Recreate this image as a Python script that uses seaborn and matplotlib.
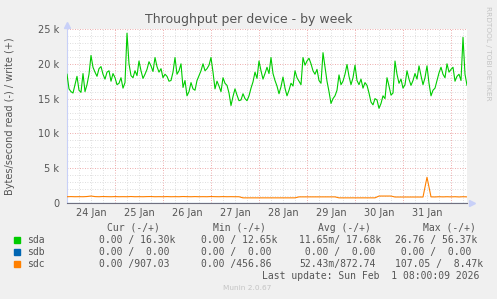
import matplotlib
matplotlib.use("Agg")
import matplotlib.pyplot as plt
import seaborn as sns
import pandas as pd
import numpy as np

# hours since 24 Jan 00:00 (week graph = 200 h, last update Sun Feb 1 08:00)
sda_hours = list(range(0, 201))
sda_write = [18.5, 16.4, 16.0, 15.8, 17.0, 18.2, 16.2, 15.9, 18.6, 16.0,
             17.0, 18.5, 21.2, 19.5, 18.8, 18.2, 19.3, 19.6, 18.5, 17.8,
             18.8, 19.0, 17.5, 18.6, 18.0, 17.0, 17.2, 18.0, 16.5, 17.3,
             24.4, 20.0, 18.3, 18.0, 19.0, 18.3, 20.4, 19.0, 17.9, 18.5,
             19.2, 20.3, 19.7, 18.9, 20.9, 19.6, 18.8, 19.3, 18.0, 18.5,
             18.2, 17.5, 17.6, 18.8, 20.9, 18.5, 19.0, 20.0, 16.6, 17.6,
             15.4, 16.0, 17.3, 16.4, 16.2, 17.6, 18.3, 19.0, 20.0, 19.0,
             19.3, 19.8, 20.9, 18.8, 16.4, 17.5, 16.8, 16.0, 18.0, 17.2,
             16.9, 15.8, 14.0, 15.3, 16.4, 15.5, 14.7, 14.8, 15.7, 15.0,
             14.7, 15.4, 16.5, 17.4, 18.8, 17.9, 20.4, 19.0, 17.8, 18.6,
             19.5, 18.6, 20.9, 18.6, 17.6, 16.8, 15.7, 16.7, 18.1, 16.5,
             15.4, 16.2, 17.2, 16.8, 19.0, 18.0, 17.5, 17.0, 20.9, 19.8,
             20.4, 20.8, 20.0, 19.0, 18.5, 19.2, 17.6, 17.2, 21.6, 19.5,
             17.5, 16.0, 14.3, 15.0, 15.4, 16.2, 18.4, 17.0, 17.5, 18.5,
             19.9, 18.2, 17.0, 18.0, 19.8, 17.6, 17.0, 17.8, 16.5, 17.3,
             16.9, 15.8, 14.5, 14.1, 15.0, 14.8, 13.6, 14.3, 15.4, 15.0,
             18.0, 16.8, 15.5, 15.8, 20.4, 18.5, 17.2, 17.8, 16.5, 17.0,
             19.0, 17.8, 16.9, 17.6, 18.6, 17.8, 19.7, 18.3, 17.0, 18.0,
             19.7, 17.2, 15.4, 16.2, 16.5, 17.6, 18.7, 19.5, 18.5, 18.0,
             20.0, 18.8, 19.2, 19.5, 17.5, 18.2, 18.5, 17.6, 23.8, 18.5,
             16.9]
sda_write = [v * 1000 for v in sda_write]

sdb_hours = [0, 200]
sdb_write = [0.0, 0.0]

sdc_hours = list(range(0, 202, 2))
sdc_write = ([900, 920, 900, 910, 900, 930, 1000, 920, 900, 930, 910, 900,
              920, 900, 910, 900, 930, 900, 910, 900, 920, 930, 900, 910,
              900, 920, 900, 910, 900, 930, 910, 900, 920, 900, 910, 900,
              930, 910, 900, 920, 900, 910, 900, 900]
             + [740] * 14 + [880] * 10 + [740] * 10 + [1000] * 4 + [860] * 8
             + [3700]
             + [880, 870, 900, 880, 900, 880, 900, 870, 900, 880])

devices = ["sda", "sdb", "sdc"]
colors = {"sda": "#00CC00", "sdb": "#0066B3", "sdc": "#FF8000"}

day_labels = ["24 Jan", "25 Jan", "26 Jan", "27 Jan", "28 Jan", "29 Jan", "30 Jan", "31 Jan"]

cur = ["0.00 / 16.30k", "0.00 /  0.00", "0.00 /907.03"]
mins = ["0.00 / 12.65k", "0.00 /  0.00", "0.00 /456.86"]
avgs = ["11.65m/ 17.68k", " 0.00 /  0.00", "52.43m/872.74"]
maxs = ["26.76 / 56.37k", " 0.00 /  0.00", "107.05 /  8.47k"]

df = pd.DataFrame({
    "hour": sda_hours + sdb_hours + sdc_hours,
    "value": sda_write + sdb_write + sdc_write,
    "device": ["sda"] * len(sda_hours) + ["sdb"] * len(sdb_hours) + ["sdc"] * len(sdc_hours),
})

W, H = 497, 299
fig = plt.figure(figsize=(W / 100, H / 100), dpi=100, facecolor="#F0F0F0")
ax = fig.add_axes([67 / W, 1 - 203 / H, 400 / W, 174 / H])
ax.set_facecolor("white")

sns.lineplot(data=df, x="hour", y="value", hue="device", palette=colors,
             hue_order=devices, linewidth=0.8, legend=False, ax=ax, zorder=3)

ax.set_xlim(0, 200)
ax.set_ylim(0, 25000)

# grid: red dotted for major, grey dotted for minor
ax.set_xticks(np.arange(24, 200, 24))
ax.set_xticks(np.arange(6, 200, 6), minor=True)
ax.set_xticklabels([])
ax.set_yticks(np.arange(0, 25001, 5000))
ax.set_yticks(np.arange(0, 25001, 1000), minor=True)
ax.set_yticklabels(["0", "5 k", "10 k", "15 k", "20 k", "25 k"])
ax.grid(which="minor", color="#D4D4D4", linestyle=(0, (1, 2)), linewidth=0.6)
ax.grid(which="major", color="#E89090", linestyle=(0, (1, 2)), linewidth=0.6)
ax.set_axisbelow(True)
ax.tick_params(which="both", length=0)
ax.tick_params(axis="y", labelsize=7, labelcolor="#555555", pad=5.5)
for i, lab in enumerate(day_labels):
    ax.text(12 + 24 * i, -700, lab, ha="center", va="top", fontsize=7, color="#555555")

ax.set_xlabel("")
ax.set_ylabel("")
for s in ["top", "right"]:
    ax.spines[s].set_visible(False)
ax.spines["left"].set_color("#C8D0F8")
ax.spines["bottom"].set_color("#707080")
ax.spines["left"].set_linewidth(0.8)
ax.spines["bottom"].set_linewidth(0.8)
ax.plot([0], [25550], marker="^", color="#C8D0F8", markersize=4, clip_on=False)
ax.plot([202.5], [0], marker=">", color="#C8D0F8", markersize=4, clip_on=False)

fig.text(248.5 / W, 1 - 19 / H, "Throughput per device - by week", ha="center", va="center",
         fontsize=9, color="#555555")
fig.text(10.5 / W, 1 - 116 / H, "Bytes/second read (-) / write (+)", rotation=90,
         ha="center", va="center", fontsize=7, color="#555555")
fig.text(488 / W, 1 - 53 / H, "RRDTOOL / TOBI OETIKER", rotation=270, ha="center",
         va="center", fontsize=5.3, color="#C4C4C4")

mono = "DejaVu Sans Mono"
fig.text(107 / W, 1 - 228 / H, "Cur (-/+)", family=mono, fontsize=7, color="#555555", va="center")
fig.text(213 / W, 1 - 228 / H, "Min (-/+)", family=mono, fontsize=7, color="#555555", va="center")
fig.text(318 / W, 1 - 228 / H, "Avg (-/+)", family=mono, fontsize=7, color="#555555", va="center")
fig.text(423 / W, 1 - 228 / H, "Max (-/+)", family=mono, fontsize=7, color="#555555", va="center")
for r, dev in enumerate(devices):
    y = 1 - (240 + 12 * r) / H
    fig.patches.append(plt.Rectangle((14 / W, y - 3 / H), 6 / W, 6 / H,
                                     transform=fig.transFigure, color=colors[dev]))
    fig.text(27 / W, y, dev, family=mono, fontsize=7, color="#555555", va="center")
    fig.text(99 / W, y, cur[r], family=mono, fontsize=7, color="#555555", va="center")
    fig.text(201 / W, y, mins[r], family=mono, fontsize=7, color="#555555", va="center")
    fig.text(299 / W, y, avgs[r], family=mono, fontsize=7, color="#555555", va="center")
    fig.text(395 / W, y, maxs[r], family=mono, fontsize=7, color="#555555", va="center")
fig.text(262 / W, 1 - 276 / H, "Last update: Sun Feb  1 08:00:09 2026", family=mono,
         fontsize=7, color="#555555", va="center")
fig.text(247 / W, 1 - 288 / H, "Munin 2.0.67", ha="center", va="center", fontsize=5.3,
         color="#C4C4C4")

fig.savefig("out.png", dpi=100, facecolor=fig.get_facecolor())
